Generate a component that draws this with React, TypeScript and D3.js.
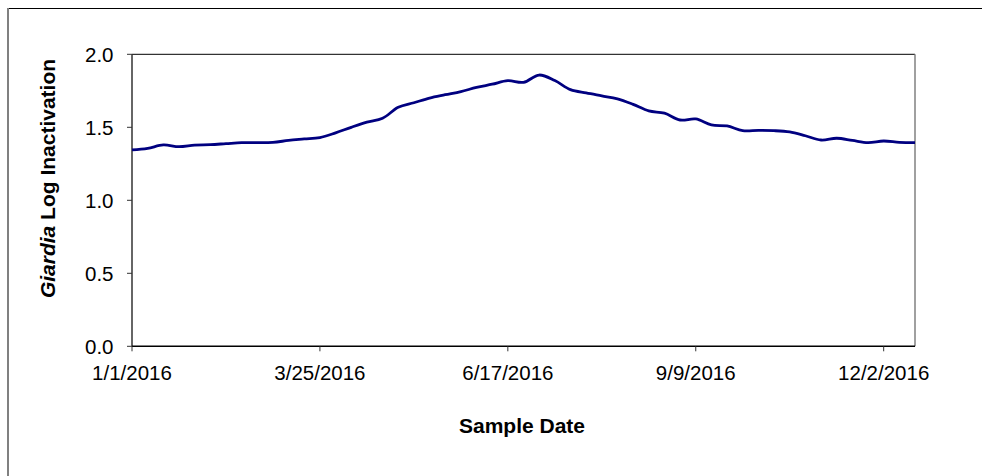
import React from "react";
import * as d3 from "d3";

// Weekly sample values, first sample 1/1/2016
const startDate = "2016-01-01";
const values: number[] = [
  1.345, 1.356, 1.379, 1.367, 1.378, 1.381, 1.388, 1.395, 1.395, 1.397,
  1.41, 1.42, 1.43, 1.462, 1.5, 1.535, 1.562, 1.637, 1.668, 1.7,
  1.723, 1.745, 1.773, 1.795, 1.819, 1.808, 1.858, 1.82, 1.758, 1.735,
  1.715, 1.695, 1.657, 1.612, 1.597, 1.55, 1.557, 1.516, 1.509, 1.477,
  1.479, 1.477, 1.468, 1.442, 1.413, 1.425, 1.41, 1.395, 1.406, 1.397,
  1.395,
];
const xTickDates = ["2016-01-01", "2016-03-25", "2016-06-17", "2016-09-09", "2016-12-02"];
const yTicks = [0, 0.5, 1.0, 1.5, 2.0];
const xDomainEnd = "2016-12-16";

const W = 982;
const H = 476;
const left = 132;
const right = 915;
const top = 54.3;
const bottom = 346.3;
const FONT = "'Liberation Sans', Arial, sans-serif";

export default function App() {
  const parse = d3.utcParse("%Y-%m-%d");
  const start = parse(startDate) as Date;
  const dates = values.map((_, i) => d3.utcDay.offset(start, 7 * i));
  const x = d3
    .scaleUtc()
    .domain([start, parse(xDomainEnd) as Date])
    .range([left, right]);
  const y = d3.scaleLinear().domain([0, 2]).range([bottom, top]);
  const fmt = d3.utcFormat("%-m/%-d/%Y");
  const line = d3
    .line<number>()
    .x((_, i) => x(dates[i]))
    .y((d) => y(d))
    .curve(d3.curveCatmullRom.alpha(0.5));

  return (
    <svg
      width={W}
      height={H}
      style={{ position: "fixed", left: 0, top: 0, background: "#fff" }}
    >
      <rect x={0} y={0} width={W} height={H} fill="#fff" />
      {/* outer chart border */}
      <line x1={8} x2={W} y1={8.5} y2={8.5} stroke="#000" strokeWidth={1} />
      <line x1={8} x2={8} y1={8} y2={H} stroke="#808080" strokeWidth={2} />

      {/* plot frame */}
      <line x1={left} x2={right} y1={top} y2={top} stroke="#000" strokeWidth={1} />
      <line x1={right} x2={right} y1={top} y2={bottom} stroke="#808080" strokeWidth={1.5} />

      {/* y axis */}
      <line x1={left} x2={left} y1={top} y2={bottom} stroke="#333" strokeWidth={1.5} />
      {yTicks.map((t) => (
        <g key={t}>
          <line x1={left - 5} x2={left} y1={y(t)} y2={y(t)} stroke="#333" strokeWidth={1} />
          <text
            x={113.5}
            y={y(t)}
            dy="0.36em"
            textAnchor="end"
            fontFamily={FONT}
            fontSize={20.5}
            fill="#000"
          >
            {t.toFixed(1)}
          </text>
        </g>
      ))}

      {/* x axis */}
      <line x1={left} x2={right} y1={bottom} y2={bottom} stroke="#000" strokeWidth={1.5} />
      {xTickDates.map((s) => {
        const d = parse(s) as Date;
        return (
          <g key={s}>
            <line x1={x(d)} x2={x(d)} y1={bottom} y2={bottom + 5} stroke="#333" strokeWidth={1} />
            <text
              x={x(d)}
              y={379.5}
              textAnchor="middle"
              fontFamily={FONT}
              fontSize={20.5}
              fill="#000"
            >
              {fmt(d)}
            </text>
          </g>
        );
      })}

      {/* series */}
      <path d={line(values) || ""} fill="none" stroke="#000080" strokeWidth={2.8} strokeLinejoin="round" />

      {/* axis titles */}
      <text
        x={522}
        y={432.7}
        textAnchor="middle"
        fontFamily={FONT}
        fontSize={21}
        fontWeight="bold"
        fill="#000"
      >
        Sample Date
      </text>
      <text
        transform={`translate(54.5,178.5) rotate(-90)`}
        textAnchor="middle"
        fontFamily={FONT}
        fontSize={21}
        fontWeight="bold"
        fill="#000"
      >
        <tspan fontStyle="italic">Giardia</tspan> Log Inactivation
      </text>
    </svg>
  );
}
